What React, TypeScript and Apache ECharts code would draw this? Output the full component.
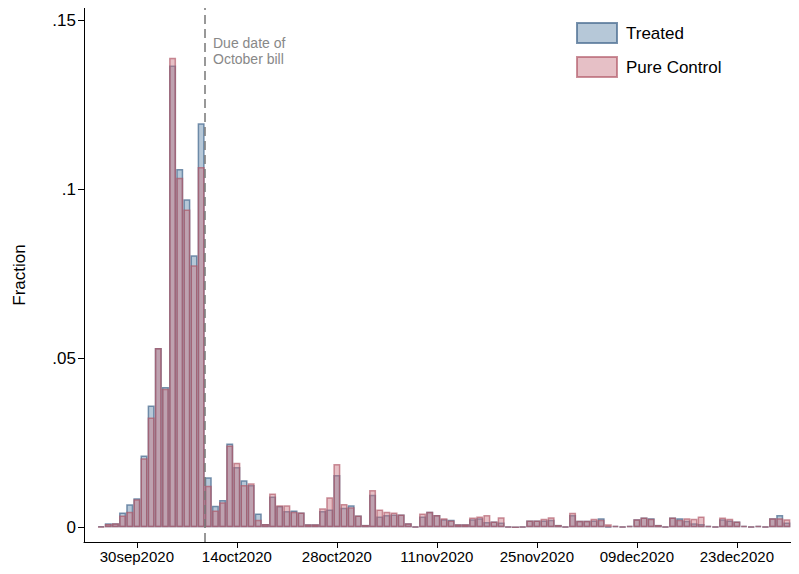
import React, { useEffect, useRef } from "react";
import * as echarts from "echarts";

// day offsets relative to 30sep2020; series start at 25sep2020 (offset -5)
const startOffset = -5;
const treated = [
  0.0003, 0.0012, 0.0012, 0.0044, 0.0068, 0.0086, 0.0212, 0.036, 0.053, 0.0415,
  0.1366, 0.106, 0.097, 0.0805, 0.1195, 0.0148, 0.0064, 0.0081, 0.0248, 0.0178,
  0.0139, 0.0125, 0.0041, 0.001, 0.0091, 0.0063, 0.0048, 0.005, 0.0044, 0.0009,
  0.0009, 0.0048, 0.0053, 0.0155, 0.0058, 0.0065, 0.0035, 0.0007, 0.0096, 0.0032,
  0.0036, 0.0038, 0.0038, 0.0012, 0.0002, 0.0032, 0.0046, 0.0036, 0.0024, 0.0022,
  0.0009, 0.0009, 0.0024, 0.0027, 0.0016, 0.0017, 0.0014, 0.0002, 0, 0.0002,
  0.002, 0.002, 0.002, 0.0022, 0.0007, 0.0002, 0.0036, 0.0019, 0.0019, 0.002,
  0.0027, 0.0002, 0.0004, 0.0002, 0.0004, 0.0024, 0.0029, 0.0027, 0.0007, 0.0002,
  0.0029, 0.0027, 0.0019, 0.0012, 0.001, 0.0004, 0.0002, 0.0024, 0.002, 0.0017,
  0.0004, 0.0002, 0.0004, 0.0002, 0.0027, 0.0036, 0.0014, 0.0004,
];
const control = [
  0.0002, 0.001, 0.0012, 0.0035, 0.0046, 0.0083, 0.0204, 0.0325, 0.053, 0.041,
  0.1389, 0.1034, 0.094, 0.0775, 0.1066, 0.0123, 0.005, 0.0074, 0.0242, 0.0191,
  0.0125, 0.013, 0.0022, 0.001, 0.01, 0.0065, 0.0065, 0.0046, 0.0044, 0.0009,
  0.0009, 0.0056, 0.0089, 0.0187, 0.0069, 0.0059, 0.0035, 0.0007, 0.011, 0.0053,
  0.0046, 0.0044, 0.0038, 0.0012, 0.0002, 0.0041, 0.0046, 0.0036, 0.0027, 0.002,
  0.0009, 0.0009, 0.0029, 0.0032, 0.0036, 0.0017, 0.003, 0.0002, 0, 0.0002,
  0.002, 0.002, 0.0025, 0.003, 0.0007, 0.0002, 0.0043, 0.0019, 0.0019, 0.0025,
  0.0022, 0.0009, 0.0004, 0.0002, 0.0004, 0.0024, 0.0029, 0.0025, 0.0007, 0.0002,
  0.0029, 0.0022, 0.0027, 0.0025, 0.0032, 0.0004, 0.0002, 0.0029, 0.0025, 0.0017,
  0.0004, 0.0002, 0.0004, 0.0002, 0.0027, 0.0027, 0.0024, 0.0004,
];
const xTickValues = [0, 14, 28, 42, 56, 70, 84];
const xTickLabels = ["30sep2020", "14oct2020", "28oct2020", "11nov2020", "25nov2020", "09dec2020", "23dec2020"];
const yTickValues = [0, 0.05, 0.1, 0.15];
const yTickLabels = ["0", ".05", ".1", ".15"];
const dueDateOffset = 9.5;

export default function App() {
  const ref = useRef<HTMLDivElement>(null);
  useEffect(() => {
    const chart = echarts.init(ref.current!, null, { renderer: "svg" });
    const font = "'Liberation Sans', Arial, sans-serif";
    const toPairs = (arr: number[]) => arr.map((v, i) => [startOffset + i, v]);
    chart.setOption({
      animation: false,
      textStyle: { fontFamily: font },
      grid: { left: 76, right: 0, top: 0, bottom: 32, containLabel: false, outerBoundsMode: "none" },
      legend: {
        left: 563, top: 9, orient: "vertical", itemWidth: 40, itemHeight: 20, itemGap: 12,
        icon: "rect",
        textStyle: { fontSize: 17, color: "#000", fontFamily: font, padding: [0, 0, 0, 4] },
        data: ["Treated", "Pure Control"],
      },
      xAxis: {
        type: "value", min: -7.4, max: 92.7,
        splitLine: { show: false },
        axisLine: { onZero: false, lineStyle: { color: "#000" } },
        axisTick: { customValues: xTickValues, length: 6, lineStyle: { color: "#000" } },
        axisLabel: {
          customValues: xTickValues, color: "#000", fontSize: 15, margin: 7, fontFamily: font,
          formatter: (v: number) => xTickLabels[xTickValues.indexOf(v)] ?? "",
        },
      },
      yAxis: {
        type: "value", min: -0.00435, max: 0.1536,
        name: "Fraction", nameLocation: "middle", nameGap: 56,
        nameTextStyle: { fontSize: 17, color: "#000", fontFamily: font },
        splitLine: { show: false },
        axisLine: { show: true, onZero: false, lineStyle: { color: "#000" } },
        axisTick: { show: true, customValues: yTickValues, length: 6, lineStyle: { color: "#000" } },
        axisLabel: {
          customValues: yTickValues, color: "#000", fontSize: 17, fontFamily: font,
          formatter: (v: number) => yTickLabels[yTickValues.findIndex((t) => Math.abs(t - v) < 1e-9)] ?? "",
        },
      },
      series: [
        {
          name: "Treated", type: "bar", data: toPairs(treated), barWidth: 7, barGap: "-100%",
          itemStyle: { color: "rgba(110,145,178,0.5)", borderColor: "rgba(75,110,145,0.75)", borderWidth: 1.5 },
          markLine: {
            silent: true, symbol: "none", label: { show: false },
            lineStyle: { color: "#777", type: [9, 5], width: 1.5 },
            data: [{ xAxis: dueDateOffset }],
          },
        },
        {
          name: "Pure Control", type: "bar", data: toPairs(control), barWidth: 7,
          itemStyle: { color: "rgba(200,115,128,0.45)", borderColor: "rgba(175,85,100,0.65)", borderWidth: 1.5 },
        },
      ],
      graphic: [
        {
          type: "text", left: 205, top: 27,
          style: { text: "Due date of\nOctober bill", fill: "#888", fontSize: 14, lineHeight: 16, fontFamily: font },
        },
      ],
    });
    return () => chart.dispose();
  }, []);
  return <div ref={ref} style={{ width: 791, height: 566 }} />;
}
